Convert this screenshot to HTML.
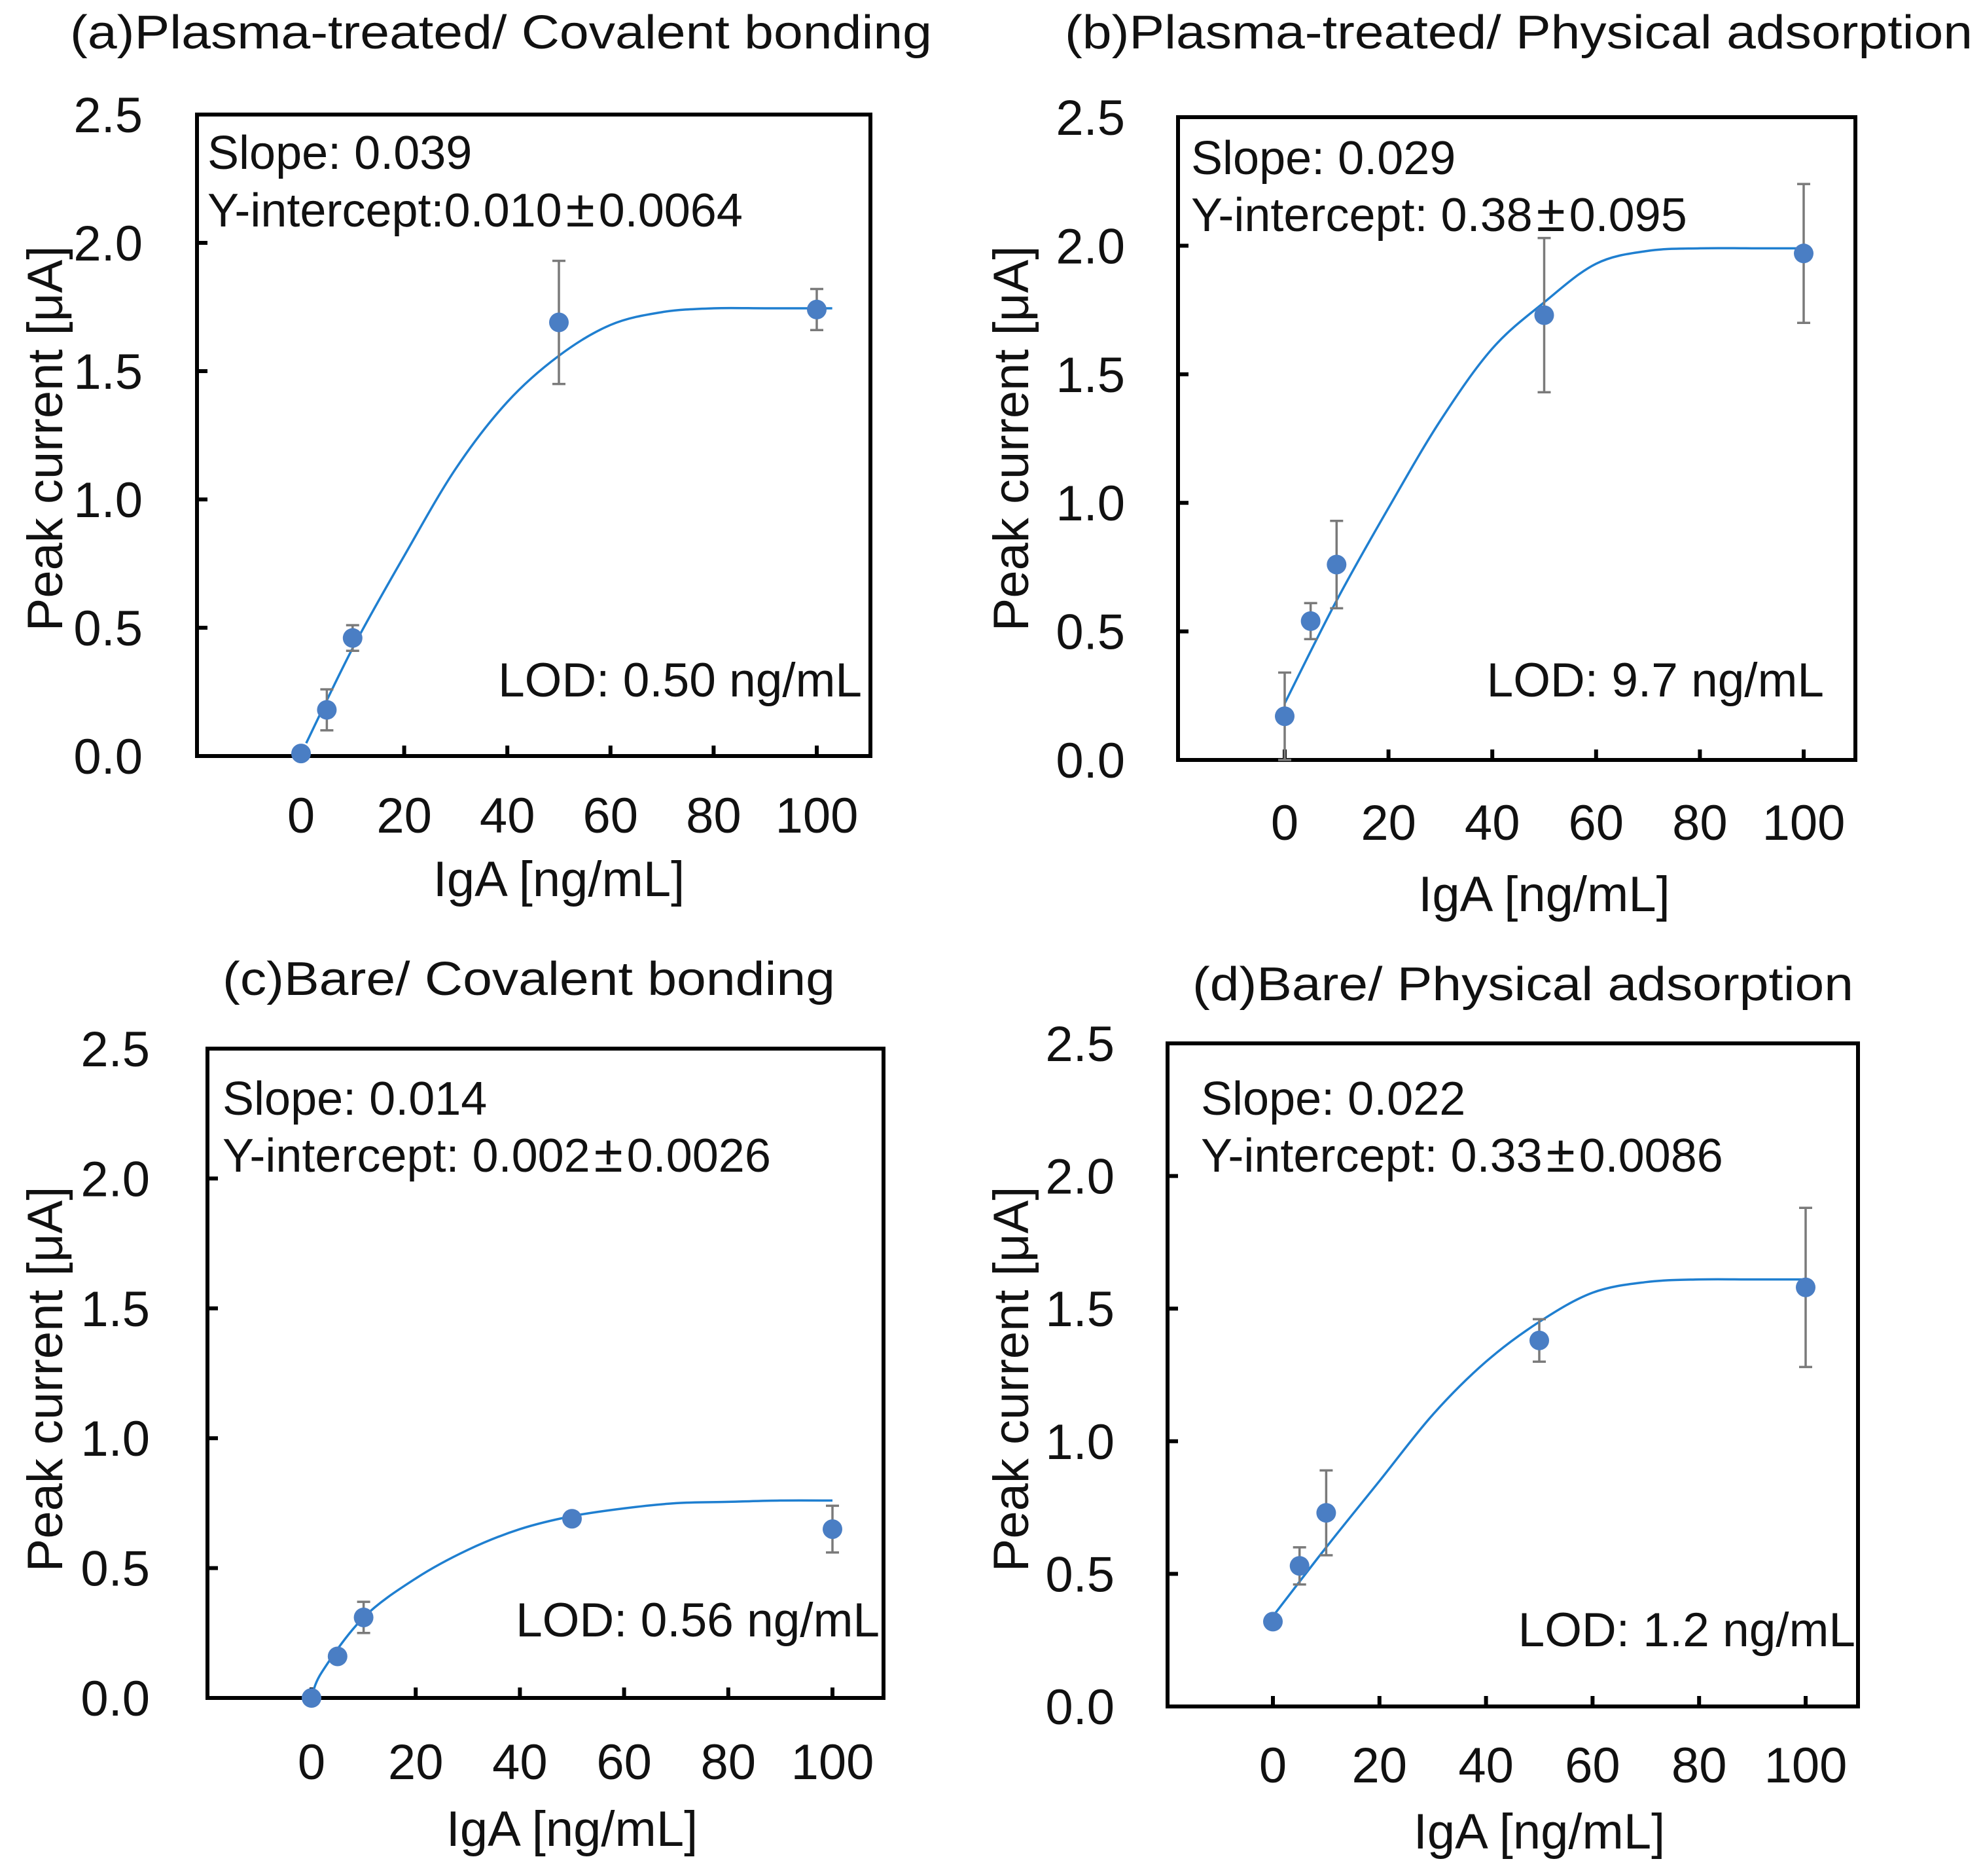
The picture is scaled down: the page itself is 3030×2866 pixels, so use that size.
<!DOCTYPE html>
<html><head><meta charset="utf-8"><style>
html,body{margin:0;padding:0;background:#fff;}
svg{display:block;font-family:"Liberation Sans",Arial,sans-serif;}
</style></head><body>
<svg id="fig" width="3030" height="2866" viewBox="0 0 3030 2866" xmlns="http://www.w3.org/2000/svg"></svg>
<script>
const xValues = [0, 5, 10, 50, 100];
const aY = [0.01, 0.18, 0.46, 1.69, 1.74];
const aErr = [0, 0.08, 0.05, 0.24, 0.08];
const bY = [0.17, 0.54, 0.76, 1.73, 1.97];
const bErr = [0.17, 0.07, 0.17, 0.3, 0.27];
const cY = [0.0, 0.16, 0.31, 0.69, 0.65];
const cErr = [0, 0, 0.06, 0, 0.09];
const dY = [0.32, 0.53, 0.73, 1.38, 1.58];
const dErr = [0, 0.07, 0.16, 0.08, 0.3];
const aFitX = [1, 10, 20, 30, 40, 50, 60, 70, 80, 90, 103];
const aFitY = [0.05, 0.42, 0.78, 1.12, 1.38, 1.56, 1.68, 1.73, 1.745, 1.745, 1.745];
const bFitX = [0, 10, 20, 30, 40, 50, 60, 70, 80, 90, 100];
const bFitY = [0.22, 0.62, 0.98, 1.32, 1.6, 1.78, 1.93, 1.98, 1.99, 1.99, 1.99];
const cFitX = [0, 2, 10, 20, 30, 40, 50, 60, 70, 80, 90, 100];
const cFitY = [0.0, 0.1, 0.31, 0.46, 0.57, 0.65, 0.7, 0.73, 0.75, 0.755, 0.76, 0.76];
const dFitX = [0, 10, 20, 30, 40, 50, 60, 70, 80, 90, 100];
const dFitY = [0.34, 0.6, 0.85, 1.1, 1.3, 1.45, 1.56, 1.6, 1.61, 1.61, 1.61];
const xTicks = [0, 20, 40, 60, 80, 100];
const yTicks = [0, 0.5, 1.0, 1.5, 2.0, 2.5];
const yTickLabels = ["0.0", "0.5", "1.0", "1.5", "2.0", "2.5"];

const NS = "http://www.w3.org/2000/svg";
const svg = document.getElementById("fig");
function mk(tag, attrs, parent, text) {
  const e = document.createElementNS(NS, tag);
  for (const k in attrs) e.setAttribute(k, attrs[k]);
  if (text !== undefined) e.textContent = text;
  (parent || svg).appendChild(e);
  return e;
}
const panels = [
  {id:"a", title:"(a)Plasma-treated/ Covalent bonding", tx:107, tw:1317, tb:74,
   L:301, R:1330, T:175, B:1155, x0:460, x100:1248, y:aY, err:aErr, fx:aFitX, fy:aFitY,
   s1:"Slope: 0.039", s2a:"Y-intercept:0.010", s2b:"0.0064", sx:317, sb1:258, sb2:346,
   lod:"LOD: 0.50 ng/mL", lx:1317, lb:1064, ylr:218, ytx:68, ytyc:670, xtb:1272, xtitb:1369},
  {id:"b", title:"(b)Plasma-treated/ Physical adsorption", tx:1627, tw:1387, tb:74,
   L:1800, R:2835, T:179, B:1161, x0:1963, x100:2756, y:bY, err:bErr, fx:bFitX, fy:bFitY,
   s1:"Slope: 0.029", s2a:"Y-intercept: 0.38", s2b:"0.095", sx:1820, sb1:266, sb2:353,
   lod:"LOD: 9.7 ng/mL", lx:2787, lb:1064, ylr:1719, ytx:1544, ytyc:670, xtb:1283, xtitb:1392},
  {id:"c", title:"(c)Bare/ Covalent bonding", tx:340, tw:936, tb:1520,
   L:317, R:1350, T:1602, B:2594, x0:476, x100:1272, y:cY, err:cErr, fx:cFitX, fy:cFitY,
   s1:"Slope: 0.014", s2a:"Y-intercept: 0.002", s2b:"0.0026", sx:340, sb1:1703, sb2:1790,
   lod:"LOD: 0.56 ng/mL", lx:1344, lb:2500, ylr:229, ytx:68, ytyc:2107, xtb:2718, xtitb:2820},
  {id:"d", title:"(d)Bare/ Physical adsorption", tx:1822, tw:1010, tb:1528,
   L:1784, R:2839, T:1594, B:2607, x0:1945, x100:2759, y:dY, err:dErr, fx:dFitX, fy:dFitY,
   s1:"Slope: 0.022", s2a:"Y-intercept: 0.33", s2b:"0.0086", sx:1835, sb1:1703, sb2:1790,
   lod:"LOD: 1.2 ng/mL", lx:2835, lb:2515, ylr:1703, ytx:1544, ytyc:2107, xtb:2723, xtitb:2824}
];
const FS = 76;
panels.forEach(p => {
  const g = mk("g", {});
  
  
  const X = v => p.x0 + (p.x100 - p.x0) * v / 100;
  const Y = v => p.B - (p.B - p.T) * v / 2.5;
  const t = mk("text", {x:p.tx, y:p.tb, "font-size":72, textLength:p.tw, lengthAdjust:"spacingAndGlyphs", fill:"#111"}, g, p.title);
  
  
  const box = mk("rect", {x:p.L, y:p.T, width:p.R-p.L, height:p.B-p.T, fill:"none", stroke:"#000", "stroke-width":6}, g);
  
  
  yTicks.forEach((v, i) => {
    const tk = mk("line", {x1:p.L, x2:p.L+16, y1:Y(v), y2:Y(v), stroke:"#000", "stroke-width":6}, g);
    
    
    const lb = mk("text", {x:p.ylr, y:Y(v)+27, "font-size":FS, "text-anchor":"end", fill:"#111"}, g, yTickLabels[i]);
    
    
  });
  xTicks.forEach(v => {
    const tk = mk("line", {x1:X(v), x2:X(v), y1:p.B, y2:p.B-16, stroke:"#000", "stroke-width":6}, g);
    
    
    const lb = mk("text", {x:X(v), y:p.xtb, "font-size":FS, "text-anchor":"middle", fill:"#111"}, g, String(v));
    
    
  });
  const yt = mk("text", {x:0, y:0, "font-size":FS, "text-anchor":"middle", fill:"#111", transform:`translate(${p.ytx+27},${p.ytyc}) rotate(-90)`}, g, "Peak current [\u03BCA]");
  
  
  const xt = mk("text", {x:(p.x0+p.x100)/2, y:p.xtitb, "font-size":FS, "text-anchor":"middle", fill:"#111"}, g, "IgA [ng/mL]");
  
  
  const s1 = mk("text", {x:p.sx, y:p.sb1, "font-size":72, fill:"#111"}, g, p.s1);
  
  
  const s2 = mk("text", {x:p.sx, y:p.sb2, "font-size":72, fill:"#111"}, g);
  
  
  mk("tspan", {}, s2, p.s2a);
  mk("tspan", {dx:6, "font-size":80}, s2, "\u00B1");
  mk("tspan", {dx:6}, s2, p.s2b);
  const ld = mk("text", {x:p.lx, y:p.lb, "font-size":73, "text-anchor":"end", fill:"#111"}, g, p.lod);
  
  
  const pts = p.fx.map((v, i) => [X(v), Y(p.fy[i])]);
  let d = `M${pts[0][0]},${pts[0][1]}`;
  for (let i = 0; i < pts.length - 1; i++) {
    const p0 = pts[i-1] || pts[i], p1 = pts[i], p2 = pts[i+1], p3 = pts[i+2] || p2;
    d += ` C${p1[0]+(p2[0]-p0[0])/6},${p1[1]+(p2[1]-p0[1])/6} ${p2[0]-(p3[0]-p1[0])/6},${p2[1]-(p3[1]-p1[1])/6} ${p2[0]},${p2[1]}`;
  }
  const c = mk("path", {d:d, fill:"none", stroke:"#1f7fd0", "stroke-width":3.5}, g);
  
  
  xValues.forEach((v, i) => {
    const e = p.err[i];
    if (e > 0) {
      const eb = mk("path", {d:`M${X(v)},${Y(p.y[i]-e)}V${Y(p.y[i]+e)}M${X(v)-10},${Y(p.y[i]-e)}h20M${X(v)-10},${Y(p.y[i]+e)}h20`, stroke:"#7a7a7a", "stroke-width":3.5, fill:"none"}, g);
      
      
    }
    const pt = mk("circle", {cx:X(v), cy:Y(p.y[i]), r:15, fill:"#4a7ec4"}, g);
    
    
  });
});
</script>
</body></html>
